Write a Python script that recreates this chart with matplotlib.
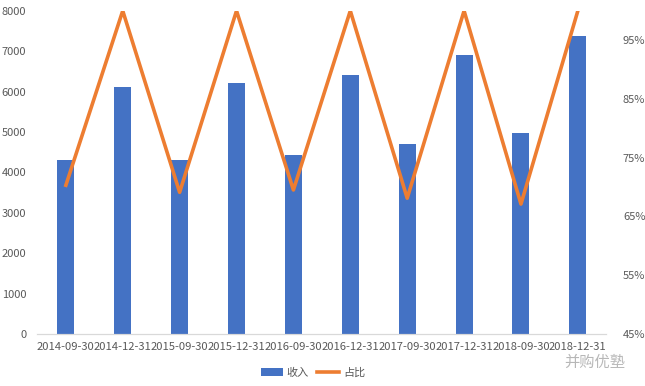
import numpy as np
import matplotlib.pyplot as plt
from matplotlib.ticker import FuncFormatter

plt.rcParams['font.family'] = ['Noto Sans CJK SC', 'DejaVu Sans']

dates = ["2014-09-30", "2014-12-31", "2015-09-30", "2015-12-31", "2016-09-30",
         "2016-12-31", "2017-09-30", "2017-12-31", "2018-09-30", "2018-12-31"]
revenue = [4310, 6110, 4310, 6215, 4430, 6415, 4705, 6910, 4975, 7380]
share = [0.703, 1.0, 0.691, 1.0, 0.695, 1.0, 0.681, 1.0, 0.671, 1.0]

bar_color = "#4472C4"
line_color = "#ED7D31"
text_color = "#595959"

fig = plt.figure(figsize=(6.45, 3.86), dpi=100)
ax = fig.add_axes([0.058, 0.135, 0.882, 0.837])
x = np.arange(len(dates))

ax.bar(x, revenue, width=0.3, color=bar_color, label="收入", zorder=2)
ax.set_ylim(0, 8000)
ax.set_yticks(range(0, 8001, 1000))
ax.set_xlim(-0.5, len(dates) - 0.5)
ax.set_xticks(x)
ax.set_xticklabels(dates)

ax2 = ax.twinx()
ax2.plot(x, share, color=line_color, lw=2.6, label="占比", zorder=3)
ax2.set_ylim(0.45, 1.0)
ax2.set_yticks(np.arange(0.45, 0.96, 0.10))
ax2.yaxis.set_major_formatter(FuncFormatter(lambda v, _: f"{v * 100:.0f}%"))

for a in (ax, ax2):
    for side in ("top", "left", "right"):
        a.spines[side].set_visible(False)
    a.spines["bottom"].set_color("#d9d9d9")
    a.tick_params(length=0, colors=text_color, labelsize=8)
ax.tick_params(axis="x", pad=6, labelsize=8.1)
ax.tick_params(axis="y", pad=8)
ax2.tick_params(axis="y", pad=12)

h1, l1 = ax.get_legend_handles_labels()
h2, l2 = ax2.get_legend_handles_labels()
fig.legend(h1 + h2, l1 + l2, loc="lower center", bbox_to_anchor=(0.485, -0.005),
           ncol=2, frameon=False, fontsize=8, labelcolor=text_color,
           handlelength=2.0, handletextpad=0.3, columnspacing=0.8)

# watermark
fig.text(0.875, 0.05, "并购优塾", fontsize=11, color="#b0b0b0", alpha=0.9)

fig.savefig("out.png", dpi=100)
